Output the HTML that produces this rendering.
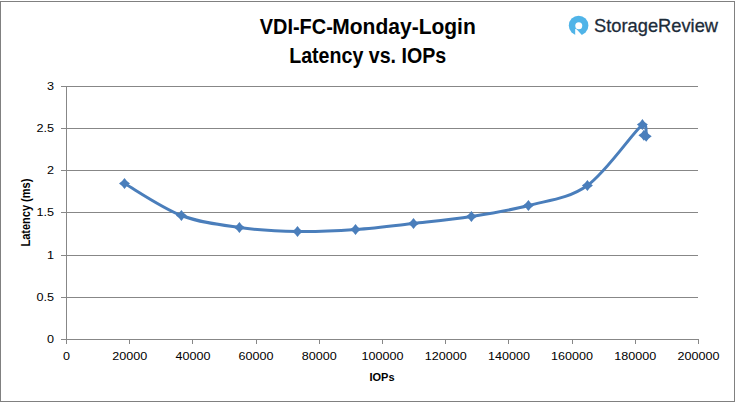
<!DOCTYPE html>
<html><head><meta charset="utf-8"><style>
html,body{margin:0;padding:0;background:#fff;}
body{width:735px;height:402px;overflow:hidden;}
svg{display:block;}
text{font-family:"Liberation Sans",sans-serif;}
</style></head><body>
<svg width="735" height="402" viewBox="0 0 735 402">
<rect x="0" y="0" width="735" height="402" fill="#fff"/>
<rect x="0.5" y="1.5" width="734" height="400" fill="none" stroke="#808080" stroke-width="1"/>
<g stroke="#878787" stroke-width="1" shape-rendering="crispEdges"><line x1="61" y1="86.5" x2="698" y2="86.5"/><line x1="61" y1="128.5" x2="698" y2="128.5"/><line x1="61" y1="170.5" x2="698" y2="170.5"/><line x1="61" y1="212.5" x2="698" y2="212.5"/><line x1="61" y1="255.5" x2="698" y2="255.5"/><line x1="61" y1="297.5" x2="698" y2="297.5"/><line x1="66.5" y1="86" x2="66.5" y2="339"/><line x1="61" y1="339.5" x2="699" y2="339.5"/><line x1="66.5" y1="339" x2="66.5" y2="344"/><line x1="129.5" y1="339" x2="129.5" y2="344"/><line x1="192.5" y1="339" x2="192.5" y2="344"/><line x1="256.5" y1="339" x2="256.5" y2="344"/><line x1="319.5" y1="339" x2="319.5" y2="344"/><line x1="382.5" y1="339" x2="382.5" y2="344"/><line x1="445.5" y1="339" x2="445.5" y2="344"/><line x1="508.5" y1="339" x2="508.5" y2="344"/><line x1="572.5" y1="339" x2="572.5" y2="344"/><line x1="635.5" y1="339" x2="635.5" y2="344"/><line x1="698.5" y1="339" x2="698.5" y2="344"/></g>
<g font-size="11.5" fill="#000"><text transform="translate(54,90.0) scale(1.10,1)" text-anchor="end">3</text><text transform="translate(54,132.0) scale(1.10,1)" text-anchor="end">2.5</text><text transform="translate(54,174.0) scale(1.10,1)" text-anchor="end">2</text><text transform="translate(54,216.0) scale(1.10,1)" text-anchor="end">1.5</text><text transform="translate(54,259.0) scale(1.10,1)" text-anchor="end">1</text><text transform="translate(54,301.0) scale(1.10,1)" text-anchor="end">0.5</text><text transform="translate(54,343.0) scale(1.10,1)" text-anchor="end">0</text><text transform="translate(66.5,360) scale(1.095,1)" text-anchor="middle">0</text><text transform="translate(129.7,360) scale(1.095,1)" text-anchor="middle">20000</text><text transform="translate(192.9,360) scale(1.095,1)" text-anchor="middle">40000</text><text transform="translate(256.1,360) scale(1.095,1)" text-anchor="middle">60000</text><text transform="translate(319.3,360) scale(1.095,1)" text-anchor="middle">80000</text><text transform="translate(382.5,360) scale(1.095,1)" text-anchor="middle">100000</text><text transform="translate(445.7,360) scale(1.095,1)" text-anchor="middle">120000</text><text transform="translate(508.9,360) scale(1.095,1)" text-anchor="middle">140000</text><text transform="translate(572.1,360) scale(1.095,1)" text-anchor="middle">160000</text><text transform="translate(635.3,360) scale(1.095,1)" text-anchor="middle">180000</text><text transform="translate(698.5,360) scale(1.095,1)" text-anchor="middle">200000</text></g>
<text x="382" y="381" text-anchor="middle" font-size="11" font-weight="bold">IOPs</text>
<text transform="translate(30.3,212.6) rotate(-90)" x="-34" y="0" textLength="68" lengthAdjust="spacingAndGlyphs" font-size="12" font-weight="bold">Latency (ms)</text>
<g font-weight="bold" font-size="21.3" fill="#000" text-anchor="middle">
<text x="259.8" y="34" text-anchor="start" textLength="73" lengthAdjust="spacingAndGlyphs">VDI-FC-</text><text x="332.3" y="34" text-anchor="start" textLength="143.5" lengthAdjust="spacingAndGlyphs">Monday-Login</text>
<text x="289.2" y="63" text-anchor="start" textLength="157" lengthAdjust="spacingAndGlyphs">Latency vs. IOPs</text>
</g>
<path d="M124.50,183.50 C133.98,188.83 162.25,208.17 181.40,215.50 C200.55,222.83 220.05,224.83 239.40,227.50 C258.75,230.17 278.15,231.17 297.50,231.50 C316.85,231.83 336.17,230.83 355.50,229.50 C374.83,228.17 394.18,225.67 413.50,223.50 C432.82,221.33 452.25,219.50 471.40,216.50 C490.55,213.50 509.07,210.67 528.40,205.50 C547.73,200.33 568.40,198.98 587.40,185.50 C606.40,172.02 632.60,132.80 642.40,124.60 C647.12,120.65 645.95,134.52 646.20,136.30 C646.37,137.54 644.28,135.47 643.90,135.30" fill="none" stroke="#4A7EBB" stroke-width="3" stroke-linejoin="round" stroke-linecap="round"/>
<g fill="#4A7EBB"><path d="M124.50,178.00 L126.90,181.10 L130.00,183.50 L126.90,185.90 L124.50,189.00 L122.10,185.90 L119.00,183.50 L122.10,181.10 Z"/><path d="M181.40,210.00 L183.80,213.10 L186.90,215.50 L183.80,217.90 L181.40,221.00 L179.00,217.90 L175.90,215.50 L179.00,213.10 Z"/><path d="M239.40,222.00 L241.80,225.10 L244.90,227.50 L241.80,229.90 L239.40,233.00 L237.00,229.90 L233.90,227.50 L237.00,225.10 Z"/><path d="M297.50,226.00 L299.90,229.10 L303.00,231.50 L299.90,233.90 L297.50,237.00 L295.10,233.90 L292.00,231.50 L295.10,229.10 Z"/><path d="M355.50,224.00 L357.90,227.10 L361.00,229.50 L357.90,231.90 L355.50,235.00 L353.10,231.90 L350.00,229.50 L353.10,227.10 Z"/><path d="M413.50,218.00 L415.90,221.10 L419.00,223.50 L415.90,225.90 L413.50,229.00 L411.10,225.90 L408.00,223.50 L411.10,221.10 Z"/><path d="M471.40,211.00 L473.80,214.10 L476.90,216.50 L473.80,218.90 L471.40,222.00 L469.00,218.90 L465.90,216.50 L469.00,214.10 Z"/><path d="M528.40,200.00 L530.80,203.10 L533.90,205.50 L530.80,207.90 L528.40,211.00 L526.00,207.90 L522.90,205.50 L526.00,203.10 Z"/><path d="M587.40,180.00 L589.80,183.10 L592.90,185.50 L589.80,187.90 L587.40,191.00 L585.00,187.90 L581.90,185.50 L585.00,183.10 Z"/><path d="M642.40,119.10 L644.80,122.20 L647.90,124.60 L644.80,127.00 L642.40,130.10 L640.00,127.00 L636.90,124.60 L640.00,122.20 Z"/><path d="M646.20,130.80 L648.60,133.90 L651.70,136.30 L648.60,138.70 L646.20,141.80 L643.80,138.70 L640.70,136.30 L643.80,133.90 Z"/><path d="M643.90,129.80 L646.30,132.90 L649.40,135.30 L646.30,137.70 L643.90,140.80 L641.50,137.70 L638.40,135.30 L641.50,132.90 Z"/></g>
<g>
<circle cx="578.6" cy="25.45" r="9.8" fill="#50b4e8"/>
<circle cx="578.75" cy="25.75" r="3.5" fill="#fff"/>
<path d="M575.2,28.7 L575.2,36 L582.8,36 L576.8,29.4 Z" fill="#fff"/>
</g>
<text x="594" y="32" font-size="18.5" fill="#1c2b39" stroke="#1c2b39" stroke-width="0.3" textLength="124" lengthAdjust="spacingAndGlyphs">StorageReview</text>
</svg>
</body></html>
